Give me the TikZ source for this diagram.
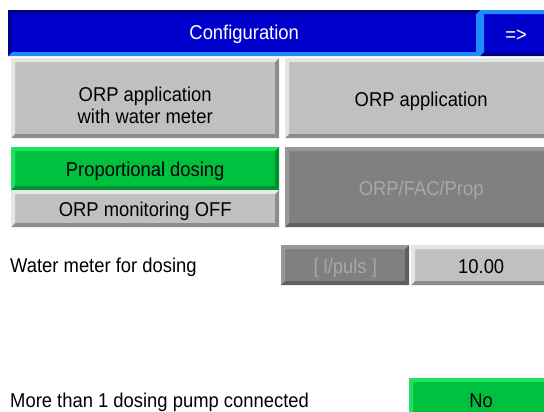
\documentclass[tikz,border=0pt]{standalone}
\usepackage{fontspec}
\setmainfont[FakeStretch=0.92]{Liberation Sans}
\usetikzlibrary{positioning}
\definecolor{barblue}{HTML}{0000CC}
\definecolor{barlight}{HTML}{1E8CFF}
\definecolor{barshade}{HTML}{000090}
\definecolor{keygrey}{HTML}{C0C0C0}
\definecolor{keylight}{HTML}{E6E6E6}
\definecolor{keyshade}{HTML}{8C8C8C}
\definecolor{keygreen}{HTML}{00C040}
\definecolor{greenlight}{HTML}{20E060}
\definecolor{greenshade}{HTML}{009030}
\definecolor{keydark}{HTML}{808080}
\definecolor{darklight}{HTML}{989898}
\definecolor{darkshade}{HTML}{606060}
\definecolor{dimtext}{HTML}{A8A8A8}

\begin{document}
\begin{tikzpicture}[x=1pt,y=-1pt,
  font=\fontsize{20}{22}\selectfont,
  bevel/.style 2 args={path picture={
    \fill[#1] (path picture bounding box.south west) -- (path picture bounding box.north west)
      -- (path picture bounding box.north east) -- ([shift={(-4pt,-4pt)}]path picture bounding box.north east)
      -- ([shift={(4pt,-4pt)}]path picture bounding box.north west) -- ([shift={(4pt,4pt)}]path picture bounding box.south west) -- cycle;
    \fill[#2] (path picture bounding box.south west) -- (path picture bounding box.south east)
      -- (path picture bounding box.north east) -- ([shift={(-4pt,-4pt)}]path picture bounding box.north east)
      -- ([shift={(-4pt,4pt)}]path picture bounding box.south east) -- ([shift={(4pt,4pt)}]path picture bounding box.south west) -- cycle;
  }},
  key/.style={anchor=north west, inner sep=0pt, align=center, text height=18pt, text depth=2pt},
  bluebar/.style={key, fill=barblue, text=white, text height=15pt, text depth=3pt, bevel={barshade}{barlight}},
  bluekey/.style={key, fill=barblue, text=white, bevel={barlight}{barshade}},
  greykey/.style={key, fill=keygrey, bevel={keylight}{keyshade}},
  greenkey/.style={key, fill=keygreen, bevel={greenlight}{greenshade}},
  darkkey/.style={key, fill=keydark, text=dimtext, bevel={darklight}{darkshade}},
  caption/.style={anchor=base west, inner sep=0pt}]
\clip (0,0) rectangle (544,412);
\fill[white] (0,0) rectangle (544,412);
%title bar
\node[bluebar, minimum width=472pt, minimum height=46pt] (title) at (8,10) {Configuration};
\node[bluekey, minimum width=72pt, minimum height=46pt] (next) at (480,10) {=>};
%application keys
\node[greykey, minimum width=268pt, minimum height=80pt, text height=50pt, text depth=0pt] (withmeter) at (11,58) {ORP application\\with water meter};
\node[greykey, minimum width=272pt, minimum height=80pt] (orpapp) at (285,58) {ORP application};
%dosing keys
\node[greenkey, minimum width=268pt, minimum height=43pt] (propdosing) at (11,147) {Proportional dosing};
\node[greykey, minimum width=268pt, minimum height=37pt] (monitoring) at (11,190) {ORP monitoring OFF};
\node[darkkey, minimum width=272pt, minimum height=80pt] (orpfac) at (285,147) {ORP/FAC/Prop};
%water meter row
\node[caption] (watermeter) at (10,272) {Water meter for dosing};
\node[darkkey, minimum width=128pt, minimum height=40pt] (unit) at (281,245) {[ l/puls ]};
\node[greykey, minimum width=140pt, minimum height=40pt] (meterval) at (411,245) {10.00};
%pump row
\node[caption] (pumps) at (10,407) {More than 1 dosing pump connected};
\node[greenkey, minimum width=144pt, minimum height=42pt] (nopump) at (409,378) {No};
\end{tikzpicture}
\end{document}
